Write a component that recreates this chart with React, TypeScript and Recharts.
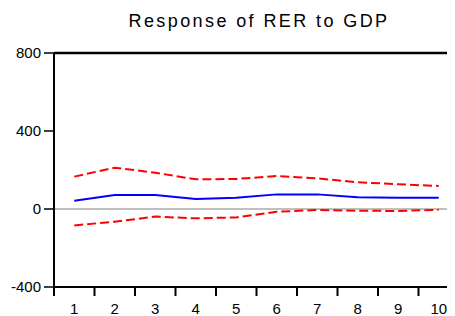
import { LineChart, Line, XAxis, YAxis, ReferenceLine } from 'recharts';

// periods of the impulse response
const periods = [1, 2, 3, 4, 5, 6, 7, 8, 9, 10];
// response of RER to a GDP shock
const response = [42, 72, 72, 51, 58, 75, 75, 60, 58, 58];
// +/- 2 S.E. bands
const upperBand = [166, 212, 186, 152, 154, 169, 157, 137, 127, 118];
const lowerBand = [-84, -65, -39, -48, -43, -14, -5, -9, -10, -4];
const yTicks = [-400, 0, 400, 800];

const data = periods.map((p, i) => ({
  period: p,
  response: response[i],
  upper: upperBand[i],
  lower: lowerBand[i],
}));

// tick marks sit between periods, labels on the periods
const xTicks: number[] = [];
periods.forEach((p) => {
  xTicks.push(p - 0.5);
  xTicks.push(p);
});

const font = '"Liberation Sans", Arial, sans-serif';

const XTick = (props: any) => {
  const { x, y, payload } = props;
  const v = payload.value;
  if (Number.isInteger(v)) {
    return (
      <text x={x} y={y + 19} textAnchor="middle" fontSize={15} fontFamily={font} fill="#000">
        {v}
      </text>
    );
  }
  return <line x1={x} y1={y - 8} x2={x} y2={y + 1} stroke="#000" strokeWidth={2} />;
};

export default function App() {
  return (
    <div style={{ margin: '-8px 0 0 -8px', width: 455, height: 316, overflow: 'hidden', background: '#fff' }}>
      <div style={{ position: 'relative', width: 465, height: 316 }}>
        <div
          style={{
            position: 'absolute',
            top: 11,
            left: 2,
            width: 514,
            textAlign: 'center',
            fontFamily: font,
            fontSize: 18,
            letterSpacing: 2.4,
            color: '#000',
          }}
        >
          Response of RER to GDP
        </div>
        <LineChart width={465} height={316} data={data} margin={{ top: 53, right: 6, bottom: 0, left: 0 }}>
          <XAxis
            dataKey="period"
            type="number"
            domain={[0.5, 10.5]}
            ticks={xTicks}
            interval={0}
            height={29}
            axisLine={{ stroke: '#000', strokeWidth: 2 }}
            tickLine={false}
            tick={<XTick />}
          />
          <YAxis
            domain={[-400, 800]}
            ticks={yTicks}
            width={54}
            tickSize={10}
            tickMargin={3}
            axisLine={{ stroke: '#000', strokeWidth: 2 }}
            tickLine={{ stroke: '#000', strokeWidth: 1.5 }}
            tick={{ fill: '#000', fontSize: 15, fontFamily: font }}
          />
          <ReferenceLine y={800} stroke="#000" strokeWidth={2.5} />
          <ReferenceLine y={0} stroke="#808080" strokeWidth={1} />
          <Line dataKey="upper" stroke="#ff0000" strokeWidth={2} strokeDasharray="9 4" dot={false} isAnimationActive={false} />
          <Line dataKey="lower" stroke="#ff0000" strokeWidth={2} strokeDasharray="9 4" dot={false} isAnimationActive={false} />
          <Line dataKey="response" stroke="#0000ff" strokeWidth={2} dot={false} isAnimationActive={false} />
        </LineChart>
      </div>
    </div>
  );
}
